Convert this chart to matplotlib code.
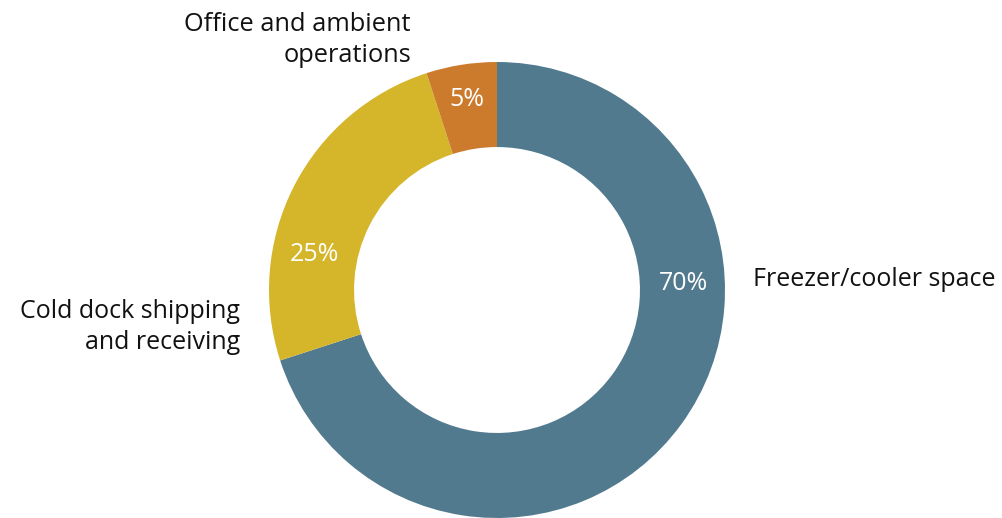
import matplotlib.pyplot as plt

# ------------------------------------------------------------
# DATA
# ------------------------------------------------------------
categories = ["Freezer/cooler space",
              "Cold dock shipping\nand receiving",
              "Office and ambient\noperations"]
shares = [70, 25, 5]
colors = ["#527a8e", "#d5b52a", "#cc7a2c"]

plt.rcParams["font.family"] = ["Open Sans", "DejaVu Sans"]

W, H = 1002, 518
fig = plt.figure(figsize=(W / 100, H / 100), dpi=100)

# donut centre ~ (497, 290) px, outer radius ~228 px
cx, cy, R = 497, 290, 228
ax = fig.add_axes([(cx - R) / W, (H - cy - R) / H, 2 * R / W, 2 * R / H])

wedges, _ = ax.pie(shares, colors=colors, startangle=90, counterclock=False,
                   radius=1.0, wedgeprops=dict(width=0.373, edgecolor="none"))
ax.set_xlim(-1, 1)
ax.set_ylim(-1, 1)
ax.set_aspect("equal")
ax.axis("off")

# percentage labels (placed by hand, like the original)
pct_pos = [(0.816, 0.03), (-0.80, 0.155), (-0.13, 0.835)]
for val, (x, y) in zip(shares, pct_pos):
    ax.text(x, y, f"{val}%", color="white", fontsize=18,
            ha="center", va="center")

# category labels
fig.text(753 / W, 1 - 280 / H, categories[0], fontsize=18,
         ha="left", va="center", color="#111111")
fig.text(240 / W, 1 - 327 / H, categories[1], fontsize=18,
         ha="right", va="center", color="#111111", linespacing=1.35)
fig.text(411 / W, 1 - 40 / H, categories[2], fontsize=18.3,
         ha="right", va="center", color="#111111", linespacing=1.35)

fig.savefig("out.png", dpi=100)
